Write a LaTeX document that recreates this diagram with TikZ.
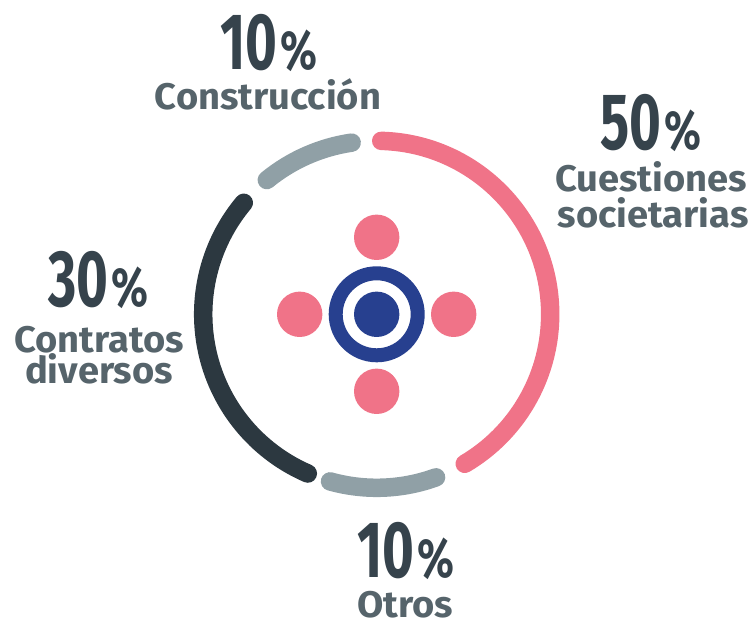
\documentclass[tikz,border=0pt]{standalone}
\usepackage{fontspec}
\setmainfont{Fira Sans}
\usepackage{graphicx}
\usetikzlibrary{calc}
\definecolor{pinkc}{HTML}{F07388}
\definecolor{darkc}{HTML}{2C3840}
\definecolor{grayc}{HTML}{90A0A6}
\definecolor{bluec}{HTML}{27408F}
\definecolor{numc}{HTML}{36434C}
\definecolor{labc}{HTML}{56646B}
\newcommand{\pctval}[1]{\scalebox{0.68}[1]{\fontsize{80}{80}\selectfont\bfseries #1}\hspace{3pt}\scalebox{0.78}[1]{\fontsize{55}{55}\selectfont\bfseries\%}}
\newcommand{\labw}[1]{\scalebox{1.03}[1]{#1}}
\tikzset{
  seg/.style={line width=18.5pt, line cap=round},
  dot/.style={circle, fill=pinkc, inner sep=0pt, minimum size=45.4pt},
  numtxt/.style={anchor=base, inner sep=0pt, text=numc},
  labtxt/.style={anchor=base, inner sep=0pt, text=labc, font=\fontsize{37}{37}\selectfont\bfseries}
}
\begin{document}
\begin{tikzpicture}[x=1pt,y=1pt]
\useasboundingbox (0,0) rectangle (753,622);
\coordinate (C) at (376.7,307.7);
% ring segments
\draw[seg, pinkc] ($(C)+(88.5:173.5)$) arc[start angle=88.5, end angle=-59.5, radius=173.5];
\draw[seg, grayc] ($(C)+(-70:173.5)$) arc[start angle=-70, end angle=-105.6, radius=173.5];
\draw[seg, darkc] ($(C)+(246.6:173.5)$) arc[start angle=246.6, end angle=140, radius=173.5];
\draw[seg, grayc] ($(C)+(129.3:173.5)$) arc[start angle=129.3, end angle=98.3, radius=173.5];
% centre symbol
\node[dot] (dt) at ($(C)+(0,77)$) {};
\node[dot] (db) at ($(C)+(0,-77)$) {};
\node[dot] (dl) at ($(C)+(-77,0)$) {};
\node[dot] (dr) at ($(C)+(77,0)$) {};
\node[circle, draw=bluec, line width=14pt, minimum size=82pt, inner sep=0pt] (ring) at (C) {};
\node[circle, fill=bluec, minimum size=45.4pt, inner sep=0pt] (core) at (C) {};
% labels
\node[numtxt] (ntop) at (269,552) {\pctval{10}};
\node[labtxt] (ltop) at (268,512) {\labw{Construcción}};
\node[numtxt] (nright) at (651,472) {\pctval{50}};
\node[labtxt] (lright1) at (651,430) {\labw{Cuestiones}};
\node[labtxt] (lright2) at (653,394) {\labw{societarias}};
\node[numtxt] (nleft) at (98,315) {\pctval{30}};
\node[labtxt] (lleft1) at (99,269) {\labw{Contratos}};
\node[labtxt] (lleft2) at (99,238) {\labw{diversos}};
\node[numtxt] (nbot) at (406,45) {\pctval{10}};
\node[labtxt] (lbot) at (405,5) {\labw{Otros}};
\end{tikzpicture}
\end{document}
